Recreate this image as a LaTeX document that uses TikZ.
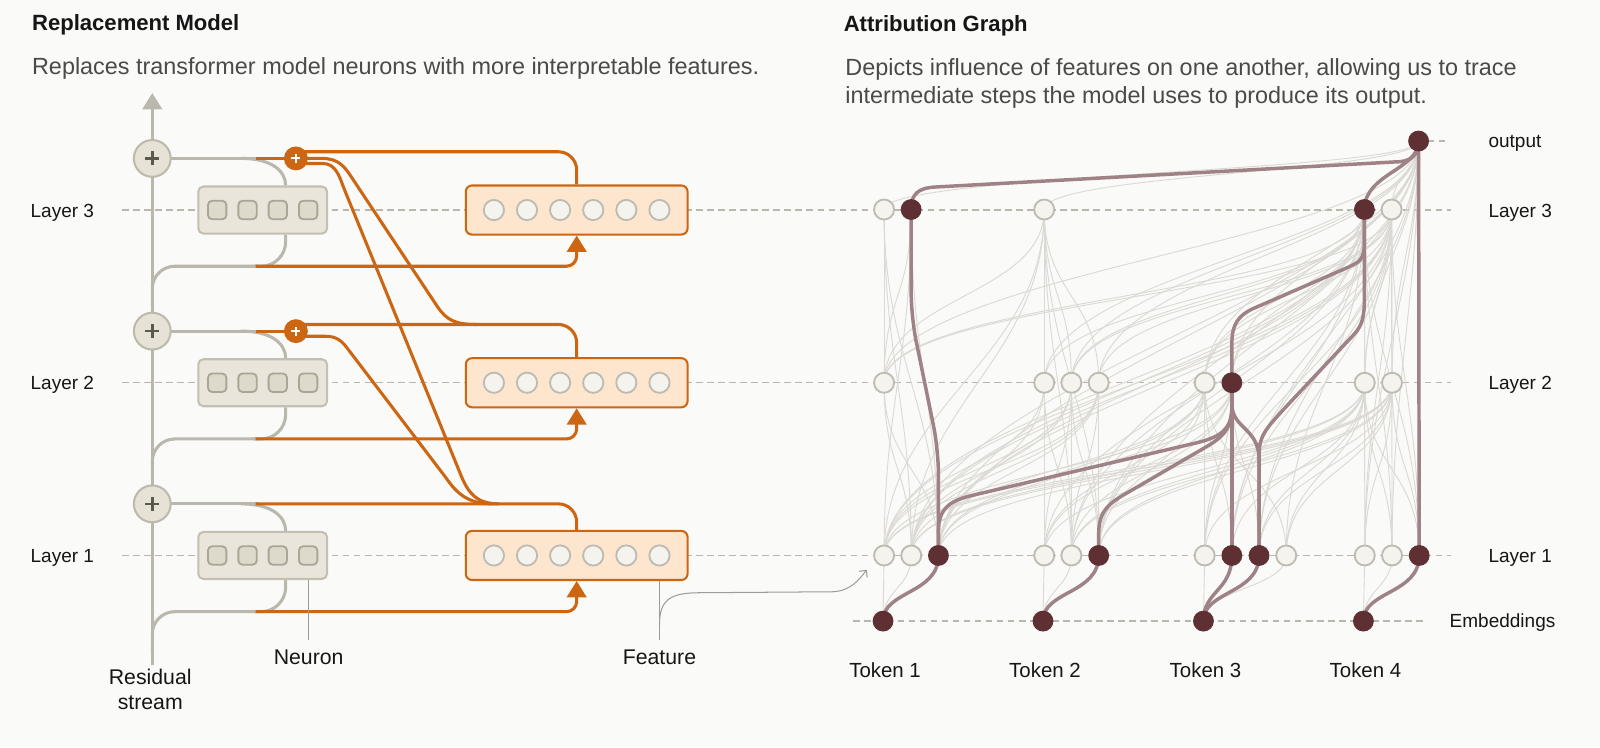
\documentclass[tikz,border=0pt]{standalone}
\usepackage{fontspec}
\setmainfont{Liberation Sans}
\usetikzlibrary{arrows.meta,calc}
\definecolor{bgc}{HTML}{FAFAF8}
\definecolor{gline}{HTML}{BAB7AC}
\definecolor{plusfill}{HTML}{E6E2D6}
\definecolor{plusdraw}{HTML}{BDB9AD}
\definecolor{plussign}{HTML}{5B594D}
\definecolor{nboxfill}{HTML}{E9E5DA}
\definecolor{nboxdraw}{HTML}{C3BFB3}
\definecolor{nsqfill}{HTML}{DEDACB}
\definecolor{nsqdraw}{HTML}{A9A697}
\definecolor{orng}{HTML}{CC6612}
\definecolor{fboxfill}{HTML}{FDE5CE}
\definecolor{nodefill}{HTML}{F4F3EE}
\definecolor{nodedraw}{HTML}{BEBCB2}
\definecolor{dashc}{HTML}{B9B6AD}
\definecolor{faintc}{HTML}{DBD9D3}
\definecolor{dedgec}{HTML}{9E8285}
\definecolor{dnodec}{HTML}{5E2F33}
\definecolor{txtc}{HTML}{161616}
\definecolor{bodyc}{HTML}{4A4A4A}
\definecolor{ptrc}{HTML}{9E9C96}
\pgfdeclarelayer{bglayer}
\pgfdeclarelayer{edgelayer}
\pgfsetlayers{bglayer,edgelayer,main}
\tikzset{
  graystroke/.style={draw=gline, line width=1.5pt},
  orangestroke/.style={draw=orng, line width=1.5pt},
  dashline/.style={draw=dashc, line width=0.7pt, dash pattern=on 3.2pt off 2.2pt},
  plusnode/.style={circle, inner sep=0pt, minimum size=18pt, fill=plusfill, draw=plusdraw, line width=1pt,
     path picture={\draw[plussign, line width=1.2pt] ([xshift=-3.4pt]path picture bounding box.center) -- ([xshift=3.4pt]path picture bounding box.center) ([yshift=-3.4pt]path picture bounding box.center) -- ([yshift=3.4pt]path picture bounding box.center);}},
  oplus/.style={circle, inner sep=0pt, minimum size=11.7pt, fill=orng,
     path picture={\draw[white, line width=1pt] ([xshift=-2.2pt]path picture bounding box.center) -- ([xshift=2.2pt]path picture bounding box.center) ([yshift=-2.2pt]path picture bounding box.center) -- ([yshift=2.2pt]path picture bounding box.center);}},
  nbox/.style={rectangle, rounded corners=2.5pt, minimum width=63pt, minimum height=23pt, fill=nboxfill, draw=nboxdraw, line width=1pt},
  nsq/.style={rectangle, rounded corners=2pt, minimum width=9pt, minimum height=9pt, inner sep=0pt, fill=nsqfill, draw=nsqdraw, line width=0.9pt},
  fbox/.style={rectangle, rounded corners=3pt, minimum width=108.5pt, minimum height=24pt, fill=fboxfill, draw=orng, line width=1pt},
  fcirc/.style={circle, inner sep=0pt, minimum size=9.9pt, fill=nodefill, draw=nodedraw, line width=0.9pt},
  lnode/.style={circle, inner sep=0pt, minimum size=9.8pt, fill=nodefill, draw=nodedraw, line width=0.9pt},
  dnode/.style={circle, inner sep=0pt, minimum size=10.2pt, fill=dnodec},
  faint/.style={draw=faintc, line width=0.45pt},
  dedge/.style={draw=dedgec, line width=1.7pt},
  ptr/.style={draw=ptrc, line width=0.5pt, -{Straight Barb[length=2.5pt,width=5pt]}},
  lbl/.style={inner sep=0pt, text=txtc, font=\fontsize{9.3}{11}\selectfont},
  biglbl/.style={inner sep=0pt, text=txtc, font=\fontsize{10.4}{12}\selectfont},
  tokl/.style={inner sep=0pt, text=txtc, font=\fontsize{10}{12}\selectfont},
  ttl/.style={anchor=base west, inner sep=0pt, text=txtc, font=\fontsize{10.8}{13}\selectfont\bfseries},
  body/.style={anchor=base west, inner sep=0pt, text=bodyc, font=\fontsize{11.45}{14}\selectfont},
}
\begin{document}
\begin{tikzpicture}[x=0.5pt,y=-0.5pt]
\begin{pgfonlayer}{bglayer}
\fill[bgc] (0,0) rectangle (1565.5,731);
\end{pgfonlayer}
\useasboundingbox (0,0) rectangle (1565.5,731);

% titles
\node[ttl] (t1) at (31,30.2) {Replacement Model};
\node[body] (s1) at (31,73) {Replaces transformer model neurons with more interpretable features.};
\node[ttl] (t2) at (825.2,30.5) {Attribution Graph};
\node[body] (s2) at (826.8,73.5) {Depicts influence of features on one another, allowing us to trace};
\node[body] (s3) at (826.8,101) {intermediate steps the model uses to produce its output.};

% ---------- left: replacement model ----------
\foreach \L/\ly in {1/543.5,2/374.5,3/205.5}{
  \begin{pgfonlayer}{bglayer}
    \draw[dashline] (119.5,\ly) -- (1420,\ly);
  \end{pgfonlayer}
  \node[plusnode] (p\L) at (149,\ly-50.5) {};
  \node[nbox] (n\L) at (257,\ly) {};
  \foreach \k/\dx in {1/-44.5,2/-14.8,3/14.8,4/44.5}
    \node[nsq] (n\L-\k) at ({257+(\dx)},\ly) {};
  \node[fbox] (f\L) at (564.25,\ly) {};
  \foreach \k in {1,...,6}
    \node[fcirc] (f\L-\k) at ({564.25+(\k-3.5)*32.4},\ly) {};
  \node[lbl, anchor=base] (ll\L) at (61,\ly+7) {Layer \L};
  \node[lbl, anchor=base west] (rl\L) at (1456,\ly+7) {Layer \L};
  \begin{pgfonlayer}{edgelayer}
    \draw[graystroke] (p\L.center) -- (252,\ly-50.5);
    \draw[graystroke] (236,\ly-50.5) .. controls (266,\ly-50.5) and ($(n\L.north)+(22.5,-14)$) .. ($(n\L.north)+(22.5,0)$);
    \draw[graystroke, rounded corners=11pt] (149,\ly+95) |- (252,\ly+55);
    \draw[graystroke, rounded corners=12pt] ($(n\L.south)+(22.5,0)$) |- (248,\ly+55);
    \draw[orangestroke, rounded corners=5pt, -{Triangle[width=9.5pt,length=8pt]}] (250,\ly+55) -| (f\L.south);
  \end{pgfonlayer}
}
\node[oplus] (op2) at (289.5,324) {};
\node[oplus] (op3) at (289.5,155) {};
\coordinate (rbot) at (149,651);
\coordinate (rtop) at (149,91);

\begin{pgfonlayer}{edgelayer}
\draw[graystroke, -{Triangle[width=9.5pt,length=8pt]}] (rbot) -- (p1.center) -- (p2.center) -- (p3.center) -- (rtop);
\draw[orangestroke, rounded corners=9pt] (250,493) -| (f1.north);
\draw[orangestroke] (250,324) -- (op2.center);
\draw[orangestroke] (250,155) -- (op3.center);
\draw[orangestroke, rounded corners=9pt] ($(op2.center)+(0,-6.5)$) -| (f2.north);
\draw[orangestroke, rounded corners=9pt] ($(op3.center)+(0,-6.5)$) -| (f3.north);
% cross-layer lines
\draw[orangestroke] (op3.center) -- (315,155) .. controls (331,155) and (337,163) .. (343,172) -- (428,300) .. controls (437,313.5) and (446,317.5) .. (466,317.5);
\draw[orangestroke] ($(op3.center)+(0,5)$) -- (316,160) .. controls (328,160) and (332,172) .. (336,183) -- (451,465) .. controls (458,482) and (466,493) .. (488,493);
\draw[orangestroke] ($(op2.center)+(0,5)$) -- (318,329) .. controls (329,329) and (334,333) .. (340,341) -- (436,467) .. controls (447,483) and (458,493) .. (482,493);
\end{pgfonlayer}

% labels left
\node[biglbl, anchor=base] (neulbl) at (302,649.7) {Neuron};
\node[biglbl, anchor=base] (featlbl) at ($(f1-6)+(0,106.2)$) {Feature};
\node[biglbl, anchor=base] (rs1) at (147,670) {Residual};
\node[biglbl, anchor=base] (rs2) at (147,694) {stream};

% ---------- right: attribution graph ----------
\def\yc{205}\def\yb{374.5}\def\ya{543.5}\def\ye{607.7}
\node[dnode] (out) at (1388,138) {};
\node[lnode] (c11) at (865,\yc) {};
\node[dnode] (c12) at (891.5,\yc) {};
\node[lnode] (c21) at (1021.7,\yc) {};
\node[dnode] (c41) at (1335,\yc) {};
\node[lnode] (c42) at (1361.6,\yc) {};
\node[lnode] (b11) at (865,\yb) {};
\node[lnode] (b21) at (1021.7,\yb) {};
\node[lnode] (b22) at (1048.3,\yb) {};
\node[lnode] (b23) at (1075,\yb) {};
\node[lnode] (b31) at (1178.7,\yb) {};
\node[dnode] (b32) at (1205.3,\yb) {};
\node[lnode] (b41) at (1335.3,\yb) {};
\node[lnode] (b42) at (1362,\yb) {};
\node[lnode] (a11) at (865,\ya) {};
\node[lnode] (a12) at (891.6,\ya) {};
\node[dnode] (a13) at (918.2,\ya) {};
\node[lnode] (a21) at (1021.7,\ya) {};
\node[lnode] (a22) at (1048.3,\ya) {};
\node[dnode] (a23) at (1075,\ya) {};
\node[lnode] (a31) at (1178.7,\ya) {};
\node[dnode] (a32) at (1205.3,\ya) {};
\node[dnode] (a33) at (1231.9,\ya) {};
\node[lnode] (a34) at (1258.5,\ya) {};
\node[lnode] (a41) at (1335.3,\ya) {};
\node[lnode] (a42) at (1362,\ya) {};
\node[dnode] (a43) at (1388.6,\ya) {};
\node[dnode] (e1) at (864,\ye) {};
\node[dnode] (e2) at (1020.5,\ye) {};
\node[dnode] (e3) at (1177.5,\ye) {};
\node[dnode] (e4) at (1334,\ye) {};

\node[lbl, anchor=base west] (outlbl) at (1456,144.5) {output};
\node[lbl, anchor=base west] (emblbl) at (1418,614.2) {Embeddings};
\node[tokl, anchor=base] (tok1) at ($(e1)+(2,55)$) {Token 1};
\node[tokl, anchor=base] (tok2) at ($(e2)+(2,55)$) {Token 2};
\node[tokl, anchor=base] (tok3) at ($(e3)+(2,55)$) {Token 3};
\node[tokl, anchor=base] (tok4) at ($(e4)+(2,55)$) {Token 4};

\begin{pgfonlayer}{bglayer}
\draw[dashline] (835,\ye) -- (1394,\ye);
\draw[dashline] (1397,138) -- (1418,138);
\end{pgfonlayer}

% pointers
\begin{pgfonlayer}{edgelayer}
\draw[ptr] ($(n1-4)+(0,82.5)$) -- ($(n1-4.south)+(0,5.5)$);
\draw[ptr] ($(f1-6)+(0,82.5)$) -- ($(f1-6.south)+(0,5)$);
\draw[ptr] ($(f1-6)+(0,68)$) .. controls ($(f1-6)+(0,44)$) and (655,581) .. (680,580) -- (815,579) .. controls (832,578) and (840,568) .. ($(a11)+(-17,14)$);

% faint edges
\foreach \src/\tgt in {e1/a11,e1/a12,e2/a21,e2/a22,e3/a31,e3/a34,e4/a41,e4/a42}
  \draw[faint] (\src.center) .. controls +(0,-32) and +(0,32) .. (\tgt.center);
\foreach \src/\sk [count=\ci] in {a11/1,a12/1,a13/1,a21/2,a22/2,a23/2,a31/3,a32/3,a33/3,a34/3,a41/4,a42/4,a43/4}{
  \foreach \tgt/\tk [count=\cj] in {b11/1,b21/2,b22/2,b23/2,b31/3,b32/3,b41/4,b42/4}{
    \pgfmathtruncatemacro\okk{(\tk>=\sk)&&(mod(3*\ci+5*\cj,4)!=0)}
    \ifnum\okk=1 \draw[faint] (\src.center) .. controls +(0,-85) and +(0,85) .. (\tgt.center);\fi
  }
  \foreach \tgt/\tk [count=\cj] in {c11/1,c12/1,c21/2,c41/4,c42/4}{
    \pgfmathtruncatemacro\okk{(\tk>=\sk)&&(mod(2*\ci+3*\cj,5)!=0)}
    \ifnum\okk=1 \draw[faint] (\src.center) .. controls +(0,-150) and +(0,150) .. (\tgt.center);\fi
  }
  \pgfmathtruncatemacro\okk{mod(\ci,3)!=1}
  \ifnum\okk=1 \draw[faint] (\src.center) .. controls +(0,-170) and +(0,150) .. (out.center);\fi
}
\foreach \src/\sk [count=\ci] in {b11/1,b21/2,b22/2,b23/2,b31/3,b32/3,b41/4,b42/4}{
  \foreach \tgt/\tk [count=\cj] in {c11/1,c12/1,c21/2,c41/4,c42/4}{
    \pgfmathtruncatemacro\okk{(\tk>=\sk)&&(mod(\ci+2*\cj,4)!=0)}
    \ifnum\okk=1 \draw[faint] (\src.center) .. controls +(0,-85) and +(0,85) .. (\tgt.center);\fi
  }
  \draw[faint] (\src.center) .. controls +(0,-110) and +(0,100) .. (out.center);
}
\foreach \src in {c11,c21,c42}
  \draw[faint] (\src.center) .. controls +(0,-35) and +(0,30) .. (out.center);

% highlighted path
\draw[dedge] (out.center) .. controls (1388,151) and (1382,158.5) .. (1364,158.5) -- (915,183) .. controls (898,184) and (891.5,190) .. (c12.center);
\draw[dedge] (out.center) .. controls (1388,166) and (1335,170) .. (c41.center);
\draw[dedge] (out.center) -- (a43.center);
\draw[dedge, rounded corners=12pt] (c12.center) -- (891.5,310) -- (918.2,440) -- (a13.center);
\draw[dedge] (c41.center) -- (1335,236) .. controls (1335,254) and (1331,256) .. (1318,262) -- (1226,302) .. controls (1211,309) and (1205.3,318) .. (1205.3,336) -- (b32.center);
\draw[dedge] (c41.center) -- (1335,290) .. controls (1335,310) and (1333,318) .. (1325,327) -- (1262,394) .. controls (1240,418) and (1231.9,425) .. (1231.9,445) -- (a33.center);
\draw[dedge] (a13.center) -- (918.2,520) .. controls (918.2,497) and (930,490) .. (950,485) -- (1172,433) .. controls (1195,427) and (1205.3,420) .. (1205.3,398) -- (b32.center);
\draw[dedge] (a23.center) -- (1075,522) .. controls (1075,500) and (1085,492) .. (1105,481) -- (1172,442) .. controls (1195,429) and (1205.3,422) .. (1205.3,398) -- (b32.center);
\draw[dedge] (b32.center) -- (a32.center);
\draw[dedge] (b32.center) -- (1205.3,395) .. controls (1205.3,420) and (1231.9,418) .. (1231.9,450) -- (a33.center);
\draw[dedge] (a13.center) .. controls +(0,38) and +(0,-30) .. (e1.center);
\draw[dedge] (a23.center) .. controls +(0,38) and +(0,-30) .. (e2.center);
\draw[dedge] (a32.center) .. controls +(0,35) and +(0,-30) .. (e3.center);
\draw[dedge] (a33.center) .. controls +(0,38) and +(0,-30) .. (e3.center);
\draw[dedge] (a43.center) .. controls +(0,38) and +(0,-30) .. (e4.center);
\end{pgfonlayer}
\end{tikzpicture}
\end{document}
